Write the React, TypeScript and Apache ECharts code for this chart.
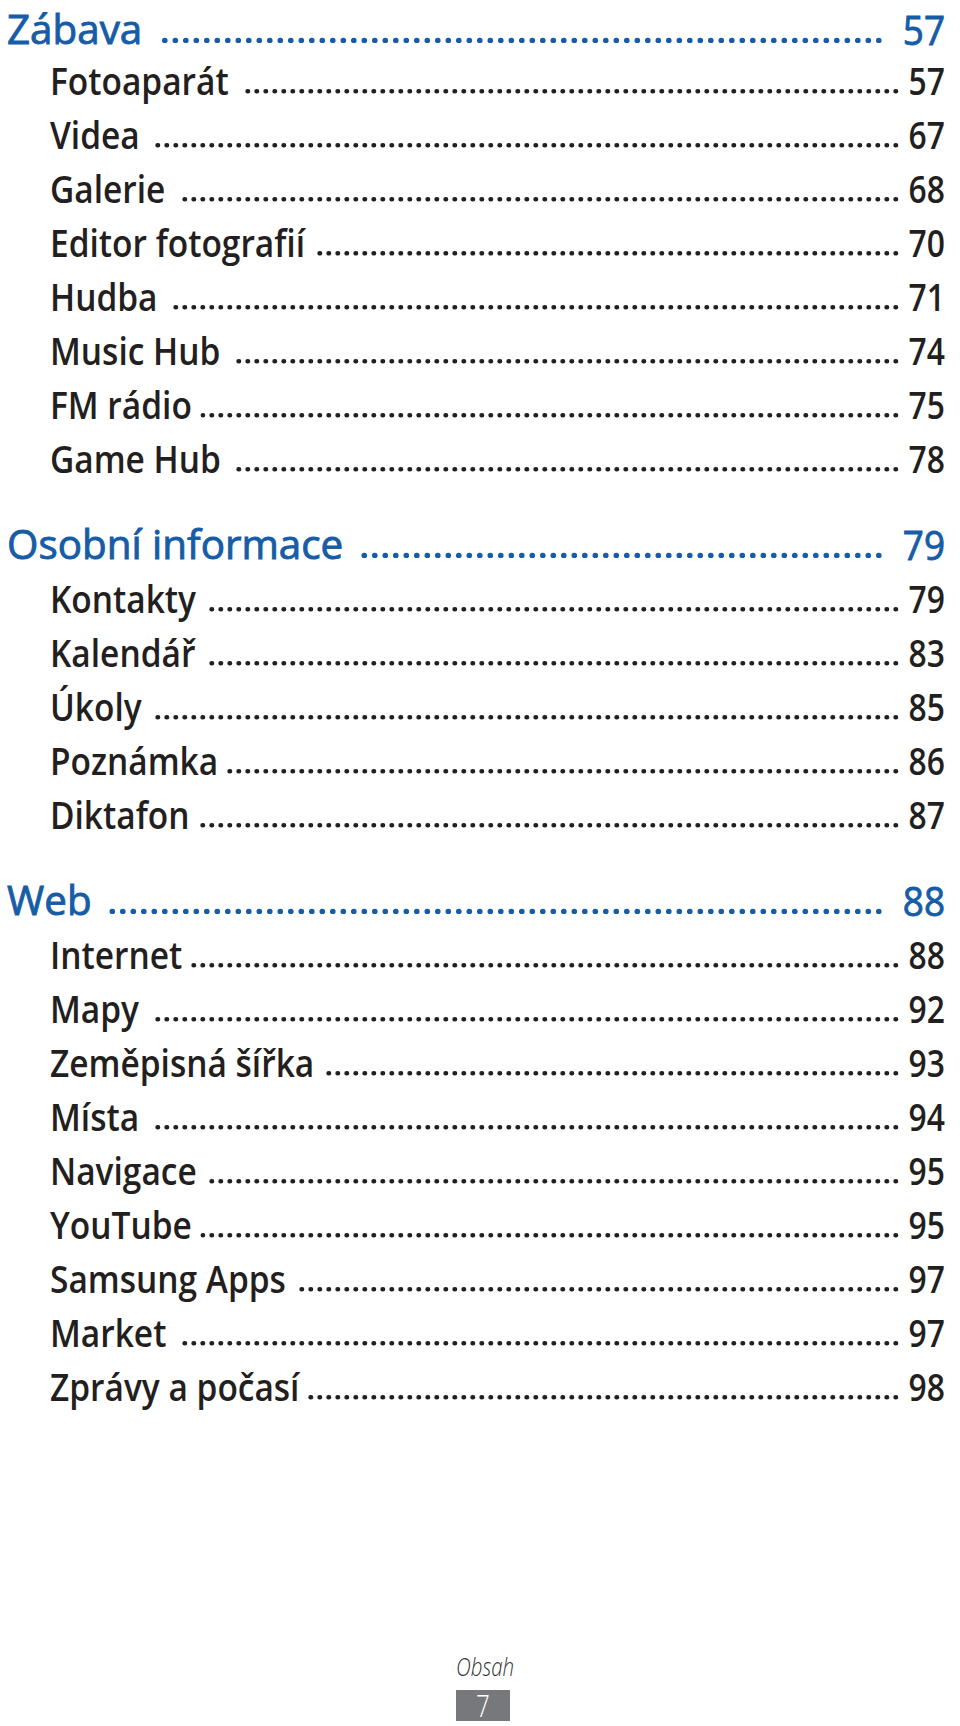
import React, { useEffect, useRef } from "react";
import * as echarts from "echarts";

// ---- content ----
const sectionTitles = ["Zábava", "Osobní informace", "Web"];
const sectionPages = ["57", "79", "88"];
const zabavaItems = ["Fotoaparát", "Videa", "Galerie", "Editor fotografií", "Hudba", "Music Hub", "FM rádio", "Game Hub"];
const zabavaPages = ["57", "67", "68", "70", "71", "74", "75", "78"];
const osobniItems = ["Kontakty", "Kalendář", "Úkoly", "Poznámka", "Diktafon"];
const osobniPages = ["79", "83", "85", "86", "87"];
const webItems = ["Internet", "Mapy", "Zeměpisná šířka", "Místa", "Navigace", "YouTube", "Samsung Apps", "Market", "Zprávy a počasí"];
const webPages = ["88", "92", "93", "94", "95", "95", "97", "97", "98"];
const footerLabel = "Obsah";
const pageNumber = "7";

const sectionItems = [zabavaItems, osobniItems, webItems];
const sectionItemPages = [zabavaPages, osobniPages, webPages];

// ---- style ----
const FONT = '"Open Sans", "Noto Sans", sans-serif';
const BLUE = "#165ca6";
const DARK = "#231f20";

const H = { size: 41, weight: 400, stroke: 0.9, lineHeight: 34, scaleX: 0.985, numScale: 0.9, left: 7, dotEnd: 879, dotGap: 18, spacing: 10.5, dotW: 5.2, color: BLUE, cap: 29 };
const S = { size: 37, weight: 600, stroke: 0, lineHeight: 32, scaleX: 0.905, numScale: 0.86, left: 50, dotEnd: 896, dotGap: 11, spacing: 9.0, dotW: 4.6, color: DARK, cap: 26 };
const NUM_RIGHT = 945;

function measure(text: string, size: number, weight: number) {
  const c = document.createElement("canvas");
  const ctx = c.getContext("2d")!;
  ctx.font = `${weight} ${size}px "Open Sans"`;
  return ctx.measureText(text).width;
}

function textStyle(text: string, st: typeof H, align: string) {
  const s: any = {
    text,
    fontSize: st.size,
    fontFamily: FONT,
    fontWeight: st.weight,
    lineHeight: st.lineHeight,
    fill: st.color,
    align,
    textAlign: align,
    verticalAlign: "middle",
    textVerticalAlign: "middle",
  };
  if (st.stroke > 0) {
    s.stroke = st.color;
    s.lineWidth = st.stroke;
  }
  return s;
}

function rowElements(text: string, page: string, y: number, st: typeof H) {
  const els: any[] = [];
  els.push({ type: "text", x: st.left, y, scaleX: st.scaleX, style: textStyle(text, st, "left") });
  els.push({ type: "text", x: NUM_RIGHT, y, scaleX: st.numScale, style: textStyle(page, st, "right") });
  const w = measure(text, st.size, st.weight) * st.scaleX;
  const start = st.left + w + st.dotGap;
  const baseline = y + st.cap / 2;
  els.push({
    type: "line",
    silent: true,
    shape: { x1: st.dotEnd, y1: baseline - st.dotW / 2, x2: start, y2: baseline - st.dotW / 2 },
    style: {
      stroke: st.color,
      lineWidth: st.dotW,
      lineCap: "round",
      lineDash: [0.4, st.spacing - 0.4],
    },
  });
  return els;
}

export default function App() {
  const ref = useRef<HTMLDivElement>(null);
  useEffect(() => {
    document.body.style.margin = "0";
    if (!ref.current) return;
    const chart = echarts.init(ref.current, null, { renderer: "svg" });
    const elements: any[] = [];
    let y = 28.5;
    sectionTitles.forEach((title, si) => {
      if (si > 0) y += 85;
      elements.push(...rowElements(title, sectionPages[si], y, H));
      y += si === 0 ? 52 : 55;
      sectionItems[si].forEach((item, ii) => {
        if (ii > 0) y += 54;
        elements.push(...rowElements(item, sectionItemPages[si][ii], y, S));
      });
    });
    // footer
    elements.push({
      type: "text",
      x: 485,
      y: 1667,
      scaleX: 0.82,
      style: {
        text: footerLabel,
        fontSize: 25,
        lineHeight: 22,
        fontFamily: FONT,
        fontWeight: 300,
        fontStyle: "italic",
        fill: "#333333",
        align: "center",
        textAlign: "center",
        verticalAlign: "middle",
        textVerticalAlign: "middle",
      },
    });
    elements.push({
      type: "rect",
      shape: { x: 456, y: 1690, width: 54, height: 31 },
      style: { fill: "#77787b" },
    });
    elements.push({
      type: "text",
      x: 483,
      y: 1704.5,
      scaleX: 0.78,
      style: {
        text: pageNumber,
        fontSize: 31,
        lineHeight: 24,
        fontFamily: FONT,
        fontWeight: 300,
        fill: "#ffffff",
        align: "center",
        textAlign: "center",
        verticalAlign: "middle",
        textVerticalAlign: "middle",
      },
    });
    chart.setOption({ animation: false, graphic: { elements } });
    return () => chart.dispose();
  }, []);
  return <div ref={ref} style={{ width: 960, height: 1726, background: "#fff" }} />;
}
